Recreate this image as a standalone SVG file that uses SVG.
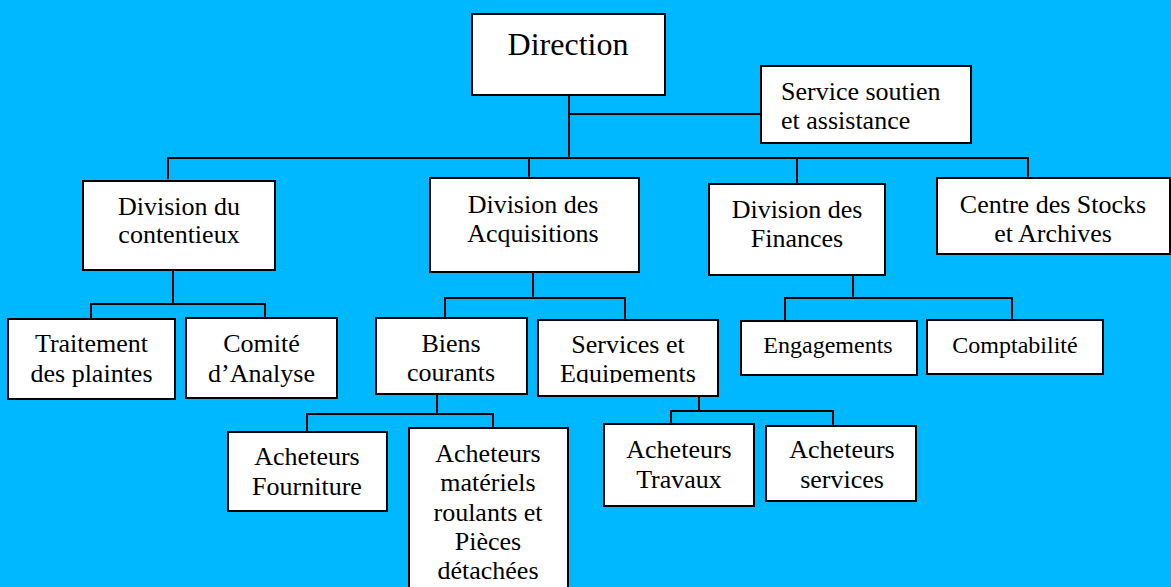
<svg xmlns="http://www.w3.org/2000/svg" width="1171" height="587" viewBox="0 0 1171 587">
  <style>
    .box { fill: #ffffff; stroke: #000000; stroke-width: 2; }
    .link { fill: none; stroke: #000000; stroke-width: 2; }
    text { font-family: "Liberation Serif", "Times New Roman", serif; font-size: 26px; fill: #000000; text-anchor: middle; }
    .big { font-size: 32px; }
    .small { font-size: 24px; }
    .left { text-anchor: start; }
  </style>
  <defs>
    <clipPath id="clip-services">
      <rect x="538" y="320" width="180" height="63"/>
    </clipPath>
  </defs>
  <rect x="0" y="0" width="1171" height="587" fill="#00B8FF"/>

  <g id="connectors">
    <!-- Direction to the top level -->
    <path class="link" d="M569 95 V158"/>
    <path class="link" d="M569 114 H761"/>
    <path class="link" d="M168 179 V158 H1028 V178"/>
    <path class="link" d="M529 158 V178"/>
    <path class="link" d="M797 158 V184"/>
    <!-- Division du contentieux -->
    <path class="link" d="M173 270 V304"/>
    <path class="link" d="M91 318 V304 H265 V318"/>
    <!-- Division des Acquisitions -->
    <path class="link" d="M533 272 V298"/>
    <path class="link" d="M445 318 V298 H625 V320"/>
    <!-- Biens courants -->
    <path class="link" d="M437 394 V414"/>
    <path class="link" d="M307 432 V414 H493 V428"/>
    <!-- Services et Equipements -->
    <path class="link" d="M699 396 V411"/>
    <path class="link" d="M671 424 V411 H833 V426"/>
    <!-- Division des Finances -->
    <path class="link" d="M853 275 V298"/>
    <path class="link" d="M785 321 V298 H1012 V320"/>
  </g>

  <g id="direction">
    <rect class="box" x="472" y="14" width="193" height="81"/>
    <text class="big" x="568" y="55">Direction</text>
  </g>

  <g id="service-soutien">
    <rect class="box" x="761" y="66" width="210" height="77"/>
    <text class="left" x="781" y="100">Service soutien</text>
    <text class="left" x="781" y="129">et assistance</text>
  </g>

  <g id="division-contentieux">
    <rect class="box" x="83" y="181" width="192" height="89"/>
    <text x="179" y="215">Division du</text>
    <text x="179" y="243">contentieux</text>
  </g>

  <g id="division-acquisitions">
    <rect class="box" x="430" y="178" width="209" height="94"/>
    <text x="533" y="213">Division des</text>
    <text x="533" y="242">Acquisitions</text>
  </g>

  <g id="division-finances">
    <rect class="box" x="709" y="184" width="176" height="91"/>
    <text x="797" y="218">Division des</text>
    <text x="797" y="247">Finances</text>
  </g>

  <g id="centre-stocks">
    <rect class="box" x="937" y="178" width="233" height="76"/>
    <text x="1053" y="213">Centre des Stocks</text>
    <text x="1053" y="242">et Archives</text>
  </g>

  <g id="traitement-plaintes">
    <rect class="box" x="8" y="319" width="167" height="80"/>
    <text x="91.5" y="352">Traitement</text>
    <text x="91.5" y="382">des plaintes</text>
  </g>

  <g id="comite-analyse">
    <rect class="box" x="186" y="318" width="151" height="80"/>
    <text x="261.5" y="352">Comité</text>
    <text x="261.5" y="382">d’Analyse</text>
  </g>

  <g id="biens-courants">
    <rect class="box" x="376" y="318" width="151" height="76"/>
    <text x="451" y="352">Biens</text>
    <text x="451" y="381">courants</text>
  </g>

  <g id="services-equipements">
    <rect class="box" x="538" y="320" width="180" height="76"/>
    <g clip-path="url(#clip-services)">
      <text x="628" y="353">Services et</text>
      <text x="628" y="382">Equipements</text>
    </g>
  </g>

  <g id="engagements">
    <rect class="box" x="741" y="321" width="176" height="54"/>
    <text class="small" x="828" y="353">Engagements</text>
  </g>

  <g id="comptabilite">
    <rect class="box" x="927" y="320" width="176" height="54"/>
    <text class="small" x="1015" y="353">Comptabilité</text>
  </g>

  <g id="acheteurs-fourniture">
    <rect class="box" x="228" y="432" width="159" height="79"/>
    <text x="307" y="465">Acheteurs</text>
    <text x="307" y="495">Fourniture</text>
  </g>

  <g id="acheteurs-materiels">
    <rect class="box" x="409" y="428" width="159" height="170"/>
    <text x="488" y="462">Acheteurs</text>
    <text x="488" y="491">matériels</text>
    <text x="488" y="521">roulants et</text>
    <text x="488" y="550">Pièces</text>
    <text x="488" y="579">détachées</text>
  </g>

  <g id="acheteurs-travaux">
    <rect class="box" x="604" y="424" width="150" height="82"/>
    <text x="679" y="458">Acheteurs</text>
    <text x="679" y="488">Travaux</text>
  </g>

  <g id="acheteurs-services">
    <rect class="box" x="766" y="426" width="150" height="75"/>
    <text x="842" y="458">Acheteurs</text>
    <text x="842" y="488">services</text>
  </g>
</svg>
